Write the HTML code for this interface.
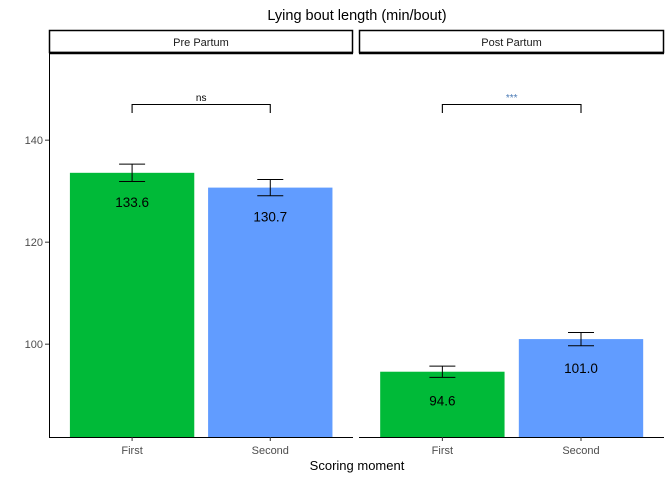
<!DOCTYPE html>
<html><head><meta charset="utf-8"><style>
body{margin:0;background:#fff;font-family:"Liberation Sans",sans-serif;}
svg text{font-family:"Liberation Sans",sans-serif;}
</style></head><body>
<svg id="chart" width="672" height="480"></svg>
<script>
const panels = ["Pre Partum", "Post Partum"];
const categories = ["First", "Second"];
const means = [[133.6, 130.7], [94.6, 101.0]];
const errors = [[1.7, 1.6], [1.1, 1.3]];
const sigLabels = ["ns", "***"];
const yTicks = [100, 120, 140];

const NS = "http://www.w3.org/2000/svg";
const svg = document.getElementById("chart");
function mk(tag, attrs, parent) {
  const e = document.createElementNS(NS, tag);
  for (const k in attrs) e.setAttribute(k, attrs[k]);
  (parent || svg).appendChild(e);
  return e;
}
const yMin = 81.8, yMax = 156.7, plotTop = 55, plotBot = 437;
function y(v) { return plotBot - (v - yMin) / (yMax - yMin) * (plotBot - plotTop); }
const panelX = [[49, 353], [359, 664]];
const colors = ["#00BA38", "#619CFF"];
function x(p, i) { const [a, b] = panelX[p]; const w = b - a; return a + w * (0.5 + i) / 2.2 + w * 0.05 - 1.2; }
const bandW = (304) / 2.2 * 0.9;

const title = mk("text", {x: 357, y: 20, "text-anchor": "middle", "font-size": 14.5, fill: "#000"});
title.textContent = "Lying bout length (min/bout)";



panels.forEach((pn, p) => {
  const [a, b] = panelX[p];
  const g = mk("g", {});
  
  
  const strip = mk("rect", {x: a + 0.5, y: 30.5, width: b - a - 1, height: 22, fill: "#fff", stroke: "#000", "stroke-width": 1.5}, g);
  
  
  mk("line", {x1: a, x2: b, y1: 53, y2: 53, stroke: "#000", "stroke-width": 2.5}, g);
  const st = mk("text", {x: (a + b) / 2, y: 46, "text-anchor": "middle", "font-size": 11, fill: "#1a1a1a"}, g);
  st.textContent = pn;
  
  
  mk("line", {x1: a, x2: b, y1: plotBot + 0.5, y2: plotBot + 0.5, stroke: "#000", "stroke-width": 1}, g);
  categories.forEach((c, i) => {
    const cx = x(p, i), v = means[p][i], e = errors[p][i];
    const r = mk("rect", {x: cx - bandW / 2, y: y(v), width: bandW, height: plotBot - y(v), fill: colors[i]}, g);
    
    
    const eb = mk("path", {d: `M${cx - 13},${y(v + e)}H${cx + 13}M${cx},${y(v + e)}V${y(v - e)}M${cx - 13},${y(v - e)}H${cx + 13}`, stroke: "#000", fill: "none", "stroke-width": 1}, g);
    
    
    const lt = mk("text", {x: cx, y: y(v) + 34, "text-anchor": "middle", "font-size": 13.5, fill: "#000"}, g);
    lt.textContent = v.toFixed(1);
    
    
    mk("line", {x1: cx, x2: cx, y1: plotBot, y2: plotBot + 4, stroke: "#333"}, g);
    const tl = mk("text", {x: cx, y: 454, "text-anchor": "middle", "font-size": 11, fill: "#4d4d4d"}, g);
    tl.textContent = c;
    
    
  });
  const x1 = x(p, 0), x2 = x(p, 1);
  const br = mk("path", {d: `M${x1},113V104.5H${x2}V113`, stroke: "#000", fill: "none", "stroke-width": 1.1}, g);
  
  
  const sl = mk("text", {x: (x1 + x2) / 2, y: 101, "text-anchor": "middle", "font-size": 10, fill: p === 0 ? "#000" : "#4a7ab5"}, g);
  sl.textContent = sigLabels[p];
  
  
});
mk("line", {x1: 49.5, x2: 49.5, y1: plotTop - 2, y2: plotBot + 1, stroke: "#000", "stroke-width": 1});
yTicks.forEach(t => {
  mk("line", {x1: 45, x2: 49, y1: y(t), y2: y(t), stroke: "#333"});
  const tt = mk("text", {x: 43, y: y(t) + 4, "text-anchor": "end", "font-size": 11, fill: "#4d4d4d"});
  tt.textContent = t;
  
  
});
const xt = mk("text", {x: 357, y: 470, "text-anchor": "middle", "font-size": 13, fill: "#000"});
xt.textContent = "Scoring moment";


</script>
</body></html>
